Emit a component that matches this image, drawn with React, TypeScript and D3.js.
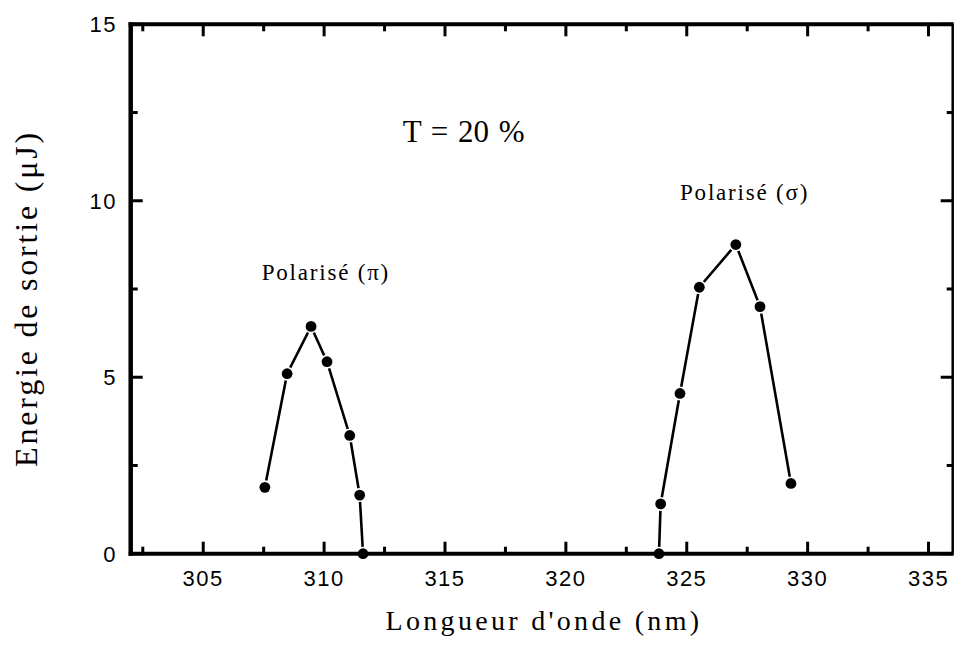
import React from "react";
import * as d3 from "d3";

const piWavelength = [307.55, 308.47, 309.46, 310.12, 311.06, 311.47, 311.61];
const piEnergy = [1.88, 5.1, 6.44, 5.44, 3.35, 1.66, 0];
const sigmaWavelength = [323.85, 323.92, 324.72, 325.52, 327.03, 328.03, 329.31];
const sigmaEnergy = [0, 1.41, 4.54, 7.55, 8.76, 7.0, 1.99];
const xMajorTicks = [305, 310, 315, 320, 325, 330, 335];
const xMinorTicks = [302.5, 307.5, 312.5, 317.5, 322.5, 327.5, 332.5];
const yMajorTicks = [0, 5, 10, 15];
const yMinorTicks = [2.5, 7.5, 12.5];

const W = 955;
const H = 646;
const L = 130.7, R = 952.7, T = 24.3, B = 553.7;

const sans = "'Liberation Sans', Arial, sans-serif";
const serif = "'Liberation Serif', 'Times New Roman', serif";

export default function App() {
  const x = d3.scaleLinear().domain([302, 336]).range([L, R]);
  const y = d3.scaleLinear().domain([0, 15]).range([B, T]);
  const line = d3
    .line<[number, number]>()
    .x((d) => x(d[0]))
    .y((d) => y(d[1]));
  const piPts: [number, number][] = piWavelength.map((w, i) => [w, piEnergy[i]]);
  const sigPts: [number, number][] = sigmaWavelength.map((w, i) => [w, sigmaEnergy[i]]);
  const allPts = [...piPts, ...sigPts];
  const tw = 3;
  return (
    <div style={{ position: "absolute", left: 0, top: 0 }}>
      <svg width={W} height={H} viewBox={`0 0 ${W} ${H}`} style={{ display: "block", background: "#fff" }}>
        <rect x={0} y={0} width={W} height={H} fill="#fff" />
        {/* data lines */}
        <path d={line(piPts) || ""} fill="none" stroke="#000" strokeWidth={2.6} />
        <path d={line(sigPts) || ""} fill="none" stroke="#000" strokeWidth={2.6} />
        {allPts.map((p, i) => (
          <circle key={"h" + i} cx={x(p[0])} cy={y(p[1])} r={7} fill="#fff" />
        ))}
        {allPts.map((p, i) => (
          <circle key={"c" + i} cx={x(p[0])} cy={y(p[1])} r={5.4} fill="#000" />
        ))}
        {/* ticks */}
        {xMajorTicks.map((t) => (
          <g key={"xM" + t}>
            <line x1={x(t)} x2={x(t)} y1={B} y2={B - 12} stroke="#000" strokeWidth={tw} />
            <line x1={x(t)} x2={x(t)} y1={T} y2={T + 12} stroke="#000" strokeWidth={tw} />
            <text x={x(t)} y={585.5} textAnchor="middle" fontFamily={sans} fontSize={22} letterSpacing={1.5}>
              {t}
            </text>
          </g>
        ))}
        {xMinorTicks.map((t) => (
          <g key={"xm" + t}>
            <line x1={x(t)} x2={x(t)} y1={B} y2={B - 7} stroke="#000" strokeWidth={tw} />
            <line x1={x(t)} x2={x(t)} y1={T} y2={T + 7} stroke="#000" strokeWidth={tw} />
          </g>
        ))}
        {yMajorTicks.map((t) => (
          <g key={"yM" + t}>
            <line x1={L} x2={L + 12} y1={y(t)} y2={y(t)} stroke="#000" strokeWidth={tw} />
            <line x1={R} x2={R - 12} y1={y(t)} y2={y(t)} stroke="#000" strokeWidth={tw} />
            <text x={117} y={y(t)} dy="0.36em" textAnchor="end" fontFamily={sans} fontSize={22} letterSpacing={1.5}>
              {t}
            </text>
          </g>
        ))}
        {yMinorTicks.map((t) => (
          <g key={"ym" + t}>
            <line x1={L} x2={L + 7} y1={y(t)} y2={y(t)} stroke="#000" strokeWidth={tw} />
            <line x1={R} x2={R - 6} y1={y(t)} y2={y(t)} stroke="#000" strokeWidth={tw} />
          </g>
        ))}
        {/* frame */}
        <line x1={L} x2={L} y1={T - 2} y2={B + 2} stroke="#000" strokeWidth={4.5} />
        <line x1={L - 2} x2={R + 1} y1={B} y2={B} stroke="#000" strokeWidth={4} />
        <line x1={L - 2} x2={R + 1} y1={T} y2={T} stroke="#000" strokeWidth={4} />
        <line x1={R} x2={R} y1={T} y2={B} stroke="#000" strokeWidth={2.5} />
        {/* labels */}
        <text x={402.7} y={141.7} fontFamily={serif} fontSize={31} wordSpacing={2}>
          T = 20 %
        </text>
        <text x={261.7} y={280} fontFamily={serif} fontSize={23} letterSpacing={1.8}>
          Polarisé (π)
        </text>
        <text x={680} y={200} fontFamily={serif} fontSize={23} letterSpacing={1.8}>
          Polarisé (σ)
        </text>
        <text x={544} y={630} textAnchor="middle" fontFamily={serif} fontSize={28} letterSpacing={3.3}>
          Longueur d'onde (nm)
        </text>
        <text
          transform="translate(37,298.5) rotate(-90)"
          textAnchor="middle"
          fontFamily={serif}
          fontSize={32}
          letterSpacing={2.8}
        >
          Energie de sortie (μJ)
        </text>
      </svg>
    </div>
  );
}
